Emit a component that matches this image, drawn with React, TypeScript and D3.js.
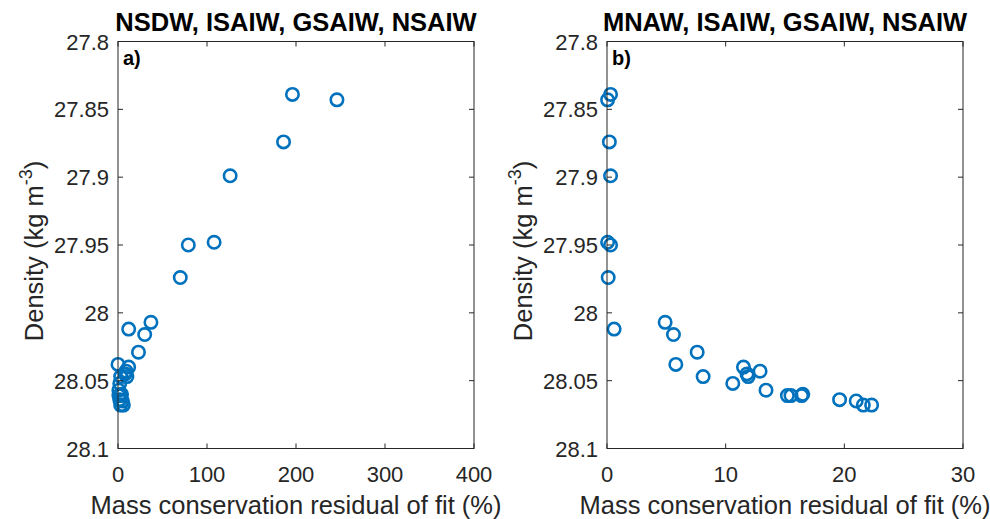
import React from "react";
import * as d3 from "d3";

// Potential density of each layer (shared by both panels)
const density = [
  27.839, 27.843, 27.874, 27.899, 27.948, 27.95, 27.974, 28.012, 28.007,
  28.016, 28.029, 28.038, 28.047, 28.04, 28.045, 28.047, 28.043, 28.052,
  28.057, 28.061, 28.061, 28.061, 28.06, 28.064, 28.065, 28.068, 28.068,
];

// Residual (%) for the NSDW-based fit
const residualA = [
  196, 246, 186, 126, 108, 79, 70, 12, 37, 30, 23, 0, 3, 12, 8, 10, 9, 2, 1,
  1, 2, 3, 4, 2, 5, 3, 6,
];

// Residual (%) for the MNAW-based fit
const residualB = [
  0.3, 0.05, 0.2, 0.3, 0.05, 0.3, 0.1, 0.6, 4.9, 5.6, 7.6, 5.8, 8.1, 11.5,
  11.8, 11.9, 12.9, 10.6, 13.4, 15.2, 15.5, 16.4, 16.5, 19.6, 21.0, 21.6, 22.3,
];

const yTicks = [27.8, 27.85, 27.9, 27.95, 28, 28.05, 28.1];
const xTicksA = [0, 100, 200, 300, 400];
const xTicksB = [0, 10, 20, 30];

const panels = [
  {
    title: "NSDW, ISAIW, GSAIW, NSAIW",
    tag: "a)",
    xs: residualA,
    xDomain: [0, 400],
    xTicks: xTicksA,
    left: 118,
  },
  {
    title: "MNAW, ISAIW, GSAIW, NSAIW",
    tag: "b)",
    xs: residualB,
    xDomain: [0, 30],
    xTicks: xTicksB,
    left: 607,
  },
];

const W = 990;
const H = 519;
const TOP = 41.5;
const BOTTOM = 448.5;
const PW = 356;
const AXIS = "#262626";
const BLUE = "#0072BD";
const FONT = "'Liberation Sans', Arial, Helvetica, sans-serif";

function Panel({ p }: { p: (typeof panels)[number] }) {
  const x = d3.scaleLinear().domain(p.xDomain).range([p.left, p.left + PW]);
  const y = d3.scaleLinear().domain([27.8, 28.1]).range([TOP, BOTTOM]);
  const tl = 5;
  const r = x.range();
  const cx = (r[0] + r[1]) / 2;
  return (
    <g>
      {/* markers */}
      {p.xs.map((v, i) => (
        <circle
          key={i}
          cx={x(v)}
          cy={y(density[i])}
          r={6.2}
          fill="none"
          stroke={BLUE}
          strokeWidth={2.6}
        />
      ))}
      {/* box */}
      <rect
        x={r[0]}
        y={TOP}
        width={PW}
        height={BOTTOM - TOP}
        fill="none"
        stroke={AXIS}
        strokeWidth={1}
      />
      {/* y ticks */}
      {yTicks.map((t) => (
        <g key={t}>
          <line x1={r[0]} x2={r[0] + tl} y1={y(t)} y2={y(t)} stroke={AXIS} />
          <line x1={r[1]} x2={r[1] - tl} y1={y(t)} y2={y(t)} stroke={AXIS} />
          <text
            x={r[0] - 9}
            y={y(t) + 8}
            textAnchor="end"
            fontSize={22}
            fill={AXIS}
            fontFamily={FONT}
          >
            {d3.format("")(t)}
          </text>
        </g>
      ))}
      {/* x ticks */}
      {p.xTicks.map((t) => (
        <g key={t}>
          <line x1={x(t)} x2={x(t)} y1={BOTTOM} y2={BOTTOM - tl} stroke={AXIS} />
          <line x1={x(t)} x2={x(t)} y1={TOP} y2={TOP + tl} stroke={AXIS} />
          <text
            x={x(t)}
            y={482}
            textAnchor="middle"
            fontSize={22}
            fill={AXIS}
            fontFamily={FONT}
          >
            {t}
          </text>
        </g>
      ))}
      {/* title */}
      <text
        x={cx}
        y={31}
        textAnchor="middle"
        fontSize={25.5}
        fontWeight="bold"
        fill="#000"
        fontFamily={FONT}
      >
        {p.title}
      </text>
      {/* panel tag */}
      <text
        x={r[0] + 5}
        y={65}
        fontSize={20}
        fontWeight="bold"
        fill="#000"
        fontFamily={FONT}
      >
        {p.tag}
      </text>
      {/* x label */}
      <text
        x={cx}
        y={514}
        textAnchor="middle"
        fontSize={25.5}
        fill={AXIS}
        fontFamily={FONT}
      >
        Mass conservation residual of fit (%)
      </text>
      {/* y label */}
      <text
        transform={`translate(${r[0] - 75},${(TOP + BOTTOM) / 2 + 6}) rotate(-90)`}
        textAnchor="middle"
        fontSize={25.5}
        fill={AXIS}
        fontFamily={FONT}
      >
        Density (kg m
        <tspan dy={-11} fontSize={18}>
          -3
        </tspan>
        <tspan dy={11}>)</tspan>
      </text>
    </g>
  );
}

export default function App() {
  return (
    <svg
      width={W}
      height={H}
      viewBox={`0 0 ${W} ${H}`}
      style={{ position: "absolute", left: 0, top: 0, background: "#fff" }}
    >
      <rect width={W} height={H} fill="#fff" />
      {panels.map((p) => (
        <Panel key={p.tag} p={p} />
      ))}
    </svg>
  );
}
